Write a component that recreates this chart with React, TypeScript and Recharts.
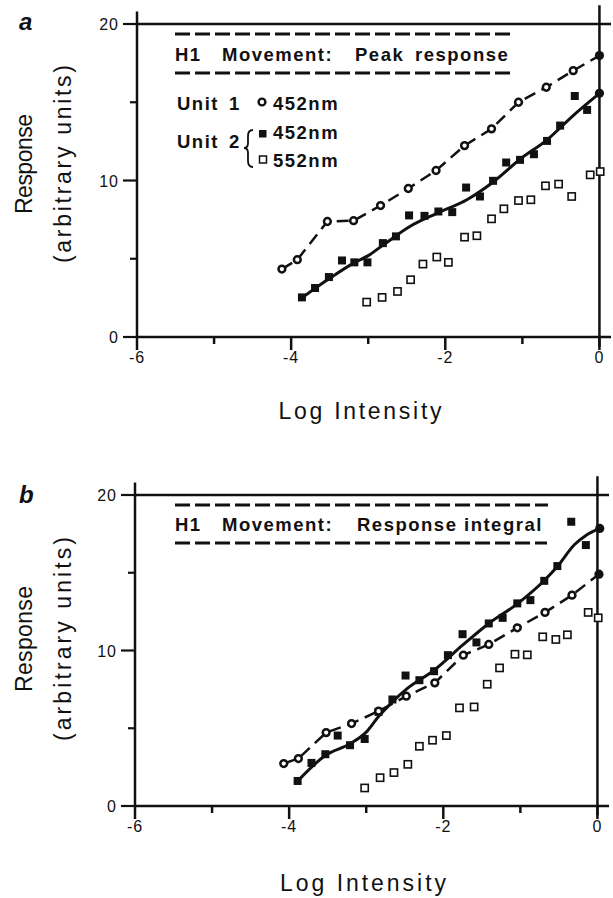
import React from "react";
import { ComposedChart, Line, Scatter, XAxis, YAxis, ReferenceLine } from "recharts";

const xTicks = [-6, -5, -4, -3, -2, -1, 0];
const xLabels = [-6, -4, -2, 0];
const yTicks = [0, 5, 10, 15, 20];
const yLabels = [0, 10, 20];

// a: peak response  [log intensity, response]
const peakUnit1 = [
  [-4.12, 4.34], [-3.92, 4.94], [-3.53, 7.38], [-3.19, 7.43], [-2.84, 8.4], [-2.48, 9.49],
  [-2.12, 10.64], [-1.75, 12.23], [-1.4, 13.3], [-1.05, 15.0], [-0.69, 15.96], [-0.34, 17.02], [0, 17.98],
];
const peakUnit2Blue = [
  [-3.86, 2.53], [-3.69, 3.13], [-3.51, 3.83], [-3.34, 4.89], [-3.18, 4.77], [-3.01, 4.77],
  [-2.81, 6.0], [-2.64, 6.43], [-2.47, 7.77], [-2.27, 7.74], [-2.09, 8.02], [-1.91, 7.98],
  [-1.73, 9.55], [-1.55, 8.98], [-1.38, 9.98], [-1.21, 11.15], [-1.03, 11.32], [-0.85, 11.68],
  [-0.68, 12.53], [-0.51, 13.51], [-0.32, 15.4], [-0.16, 14.51],
];
const peakUnit2Fit = [
  [-3.86, 2.5], [-3.5, 3.75], [-3.19, 4.72], [-3.0, 5.2], [-2.8, 5.9], [-2.46, 7.06], [-2.11, 7.9],
  [-1.72, 8.77], [-1.37, 9.94], [-1.03, 11.36], [-0.68, 12.6], [-0.33, 14.2], [0, 15.57],
];
const peakUnit2Green = [
  [-3.02, 2.23], [-2.82, 2.53], [-2.62, 2.91], [-2.45, 3.66], [-2.29, 4.66], [-2.11, 5.11],
  [-1.96, 4.77], [-1.75, 6.38], [-1.59, 6.47], [-1.4, 7.55], [-1.24, 8.19], [-1.05, 8.72],
  [-0.89, 8.77], [-0.7, 9.66], [-0.53, 9.77], [-0.36, 8.98], [-0.12, 10.36], [0.01, 10.57],
];

// b: response integral
const intUnit1 = [
  [-4.07, 2.73], [-3.88, 3.05], [-3.52, 4.72], [-3.19, 5.3], [-2.84, 6.1], [-2.48, 7.06],
  [-2.11, 7.92], [-1.74, 9.7], [-1.41, 10.39], [-1.04, 11.46], [-0.68, 12.45], [-0.33, 13.56], [0.02, 14.91],
];
const intUnit2Blue = [
  [-3.89, 1.61], [-3.71, 2.77], [-3.53, 3.33], [-3.37, 4.53], [-3.21, 3.91], [-3.02, 4.31],
  [-2.84, 6.05], [-2.66, 6.85], [-2.49, 8.39], [-2.31, 8.09], [-2.12, 8.67], [-1.94, 9.7],
  [-1.75, 11.05], [-1.57, 10.52], [-1.41, 11.74], [-1.23, 12.1], [-1.04, 13.03], [-0.87, 13.24],
  [-0.69, 14.48], [-0.52, 15.43], [-0.34, 18.28], [-0.15, 16.78],
];
const intUnit2Fit = [
  [-3.89, 1.6], [-3.53, 3.25], [-3.21, 4.0], [-3.0, 4.75], [-2.84, 5.75], [-2.66, 6.7], [-2.47, 7.55],
  [-2.12, 8.73], [-1.75, 10.34], [-1.41, 11.74], [-1.04, 13.0], [-0.69, 14.5], [-0.52, 15.4],
  [-0.3, 16.8], [-0.15, 17.4], [0.03, 17.85],
];
const intUnit2Green = [
  [-3.02, 1.16], [-2.82, 1.82], [-2.64, 2.15], [-2.46, 2.68], [-2.31, 3.84], [-2.14, 4.23],
  [-1.96, 4.53], [-1.79, 6.31], [-1.6, 6.37], [-1.43, 7.83], [-1.27, 8.88], [-1.07, 9.76],
  [-0.91, 9.72], [-0.71, 10.88], [-0.54, 10.71], [-0.39, 11.01], [-0.12, 12.45], [0.01, 12.1],
];

const INK = "#111";
const FONT = "'Liberation Sans', Arial, Helvetica, sans-serif";

const toPts = (arr: number[][]) =>
  arr.map(([x, y], i) => ({ x, y, last: i === arr.length - 1 }));

function XTick({ x, y, payload }: any) {
  const major = xLabels.includes(payload.value);
  return (
    <g>
      <line x1={x} x2={x} y1={y} y2={y + (major ? 13 : 7)} stroke={INK} strokeWidth={2.5} />
      {major && (
        <text x={x} y={y + 26} textAnchor="middle" fontSize={16} fill={INK} fontFamily={FONT} letterSpacing={1}>
          {payload.value}
        </text>
      )}
    </g>
  );
}

function YTick({ x, y, payload }: any) {
  const major = yLabels.includes(payload.value);
  return (
    <g>
      <line x1={x - (major ? 14 : 7)} x2={x} y1={y} y2={y} stroke={INK} strokeWidth={2.2} />
      {major && (
        <text x={x - 18} y={y + 6} textAnchor="end" fontSize={16} fill={INK} fontFamily={FONT} letterSpacing={1}>
          {payload.value}
        </text>
      )}
    </g>
  );
}

const OpenCircle = ({ cx, cy, payload }: any) =>
  payload && payload.last ? (
    <circle cx={cx} cy={cy} r={4.6} fill={INK} />
  ) : (
    <circle cx={cx} cy={cy} r={3.4} fill="#fff" stroke={INK} strokeWidth={2.5} />
  );

const FilledSquare = ({ cx, cy }: any) => (
  <rect x={cx - 4} y={cy - 4} width={8} height={8} fill={INK} />
);

const OpenSquare = ({ cx, cy }: any) => (
  <rect x={cx - 3.6} y={cy - 3.6} width={7.2} height={7.2} fill="#fff" stroke={INK} strokeWidth={1.6} />
);

const EndDot = (props: any) => {
  const { cx, cy, payload, index } = props;
  if (!payload || !payload.last) return <g key={`d${index}`} />;
  return <circle key={`d${index}`} cx={cx} cy={cy} r={4.6} fill={INK} />;
};

type PanelProps = {
  height: number;
  margin: { top: number; right: number; bottom: number; left: number };
  unit1: number[][];
  blue: number[][];
  fit: number[][];
  green: number[][];
};

function Panel({ height, margin, unit1, blue, fit, green }: PanelProps) {
  const axisLine = { stroke: INK, strokeWidth: 2.5 };
  return (
    <ComposedChart width={613} height={height} margin={margin}>
      <XAxis
        type="number"
        dataKey="x"
        domain={[-6, 0.15]}
        ticks={xTicks}
        interval={0}
        allowDataOverflow
        tickSize={0}
        tickMargin={0}
        tickLine={false}
        tick={<XTick />}
        axisLine={axisLine}
        height={30}
      />
      <YAxis
        type="number"
        dataKey="y"
        domain={[0, 20]}
        ticks={yTicks}
        interval={0}
        allowDataOverflow
        tickSize={0}
        tickMargin={0}
        tickLine={false}
        tick={<YTick />}
        axisLine={axisLine}
        width={60}
      />
      <ReferenceLine y={20} stroke={INK} strokeWidth={2.5} />
      <ReferenceLine
        segment={[{ x: 0, y: -0.6 }, { x: 0, y: 21.2 }]}
        ifOverflow="visible"
        stroke={INK}
        strokeWidth={2.5}
      />
      <ReferenceLine
        segment={[{ x: -6, y: 20 }, { x: -6, y: 20.8 }]}
        ifOverflow="visible"
        stroke={INK}
        strokeWidth={2.5}
      />
      <Line
        data={toPts(unit1)}
        dataKey="y"
        type="linear"
        stroke={INK}
        strokeWidth={2.5}
        strokeDasharray="12 7"
        dot={false}
        isAnimationActive={false}
      />
      <Line
        data={toPts(fit)}
        dataKey="y"
        type="monotone"
        stroke={INK}
        strokeWidth={3}
        dot={EndDot}
        activeDot={false}
        isAnimationActive={false}
      />
      <Scatter data={toPts(green)} shape={OpenSquare} isAnimationActive={false} />
      <Scatter data={toPts(blue)} shape={FilledSquare} isAnimationActive={false} />
      <Scatter data={toPts(unit1)} shape={OpenCircle} isAnimationActive={false} />
    </ComposedChart>
  );
}

function Dashes({ x1, x2, y }: { x1: number; x2: number; y: number }) {
  return <line x1={x1} x2={x2} y1={y} y2={y} stroke={INK} strokeWidth={3} strokeDasharray="15 5" />;
}

export default function App() {
  const titleStyle = { fontFamily: FONT, fontSize: 18.5, fontWeight: 700, letterSpacing: 1.5, fill: INK } as const;
  const labelStyle = { fontFamily: FONT, fontSize: 23, fill: INK } as const;
  return (
    <div style={{ position: "relative", width: 613, height: 898, background: "#fff" }}>
      <style>{"body{margin:0;background:#fff}"}</style>
      <div style={{ position: "absolute", left: 0, top: 0 }}>
        <Panel
          height={440}
          margin={{ top: 24, right: 2, bottom: 73, left: 77 }}
          unit1={peakUnit1}
          blue={peakUnit2Blue}
          fit={peakUnit2Fit}
          green={peakUnit2Green}
        />
      </div>
      <div style={{ position: "absolute", left: 0, top: 440 }}>
        <Panel
          height={458}
          margin={{ top: 55, right: 4, bottom: 62, left: 75 }}
          unit1={intUnit1}
          blue={intUnit2Blue}
          fit={intUnit2Fit}
          green={intUnit2Green}
        />
      </div>
      <svg
        width={613}
        height={898}
        style={{ position: "absolute", left: 0, top: 0, pointerEvents: "none" }}
      >
        {/* panel letters */}
        <text x={19} y={30} fontFamily={FONT} fontSize={24} fontWeight={700} fontStyle="italic" fill={INK}>a</text>
        <text x={19} y={503} fontFamily={FONT} fontSize={24} fontWeight={700} fontStyle="italic" fill={INK}>b</text>

        {/* axis titles, panel a */}
        <text transform="translate(32,164) rotate(-90)" textAnchor="middle" textLength={100} lengthAdjust="spacing" {...labelStyle}>Response</text>
        <text transform="translate(71,164) rotate(-90)" textAnchor="middle" textLength={198} lengthAdjust="spacing" {...labelStyle}>(arbitrary units)</text>
        <text x={360} y={419} textAnchor="middle" textLength={163} lengthAdjust="spacing" {...labelStyle}>Log Intensity</text>

        {/* axis titles, panel b */}
        <text transform="translate(32,639) rotate(-90)" textAnchor="middle" textLength={106} lengthAdjust="spacing" {...labelStyle}>Response</text>
        <text transform="translate(71,639) rotate(-90)" textAnchor="middle" textLength={204} lengthAdjust="spacing" {...labelStyle}>(arbitrary units)</text>
        <text x={363} y={891} textAnchor="middle" textLength={166} lengthAdjust="spacing" {...labelStyle}>Log Intensity</text>

        {/* title box a */}
        <Dashes x1={175} x2={510} y={34} />
        <text y={60.5} style={titleStyle}>
          <tspan x={175}>H1</tspan>
          <tspan x={222}>Movement:</tspan>
          <tspan x={355}>Peak</tspan>
          <tspan x={415}>response</tspan>
        </text>
        <Dashes x1={175} x2={510} y={73} />

        {/* key a */}
        <text y={110} style={titleStyle}>
          <tspan x={177}>Unit</tspan>
          <tspan x={229}>1</tspan>
        </text>
        <circle cx={262} cy={102} r={3.4} fill="#fff" stroke={INK} strokeWidth={2.4} />
        <text x={273} y={110} style={titleStyle}>452nm</text>
        <text y={148} style={titleStyle}>
          <tspan x={177}>Unit</tspan>
          <tspan x={229}>2</tspan>
        </text>
        <path
          d="M 253 130 Q 248 130 248 136 L 248 143 Q 248 148 244 148 Q 248 148 248 153 L 248 161 Q 248 167 253 167"
          fill="none"
          stroke={INK}
          strokeWidth={1.8}
        />
        <rect x={259} y={130} width={7.5} height={7.5} fill={INK} />
        <text x={273} y={139} style={titleStyle}>452nm</text>
        <rect x={259.5} y={156} width={7} height={7} fill="#fff" stroke={INK} strokeWidth={1.5} />
        <text x={273} y={167} style={titleStyle}>552nm</text>

        {/* title box b */}
        <Dashes x1={175} x2={548} y={505} />
        <text y={531} style={titleStyle}>
          <tspan x={175}>H1</tspan>
          <tspan x={222}>Movement:</tspan>
          <tspan x={357}>Response</tspan>
          <tspan x={464}>integral</tspan>
        </text>
        <Dashes x1={175} x2={547} y={543} />
      </svg>
    </div>
  );
}
